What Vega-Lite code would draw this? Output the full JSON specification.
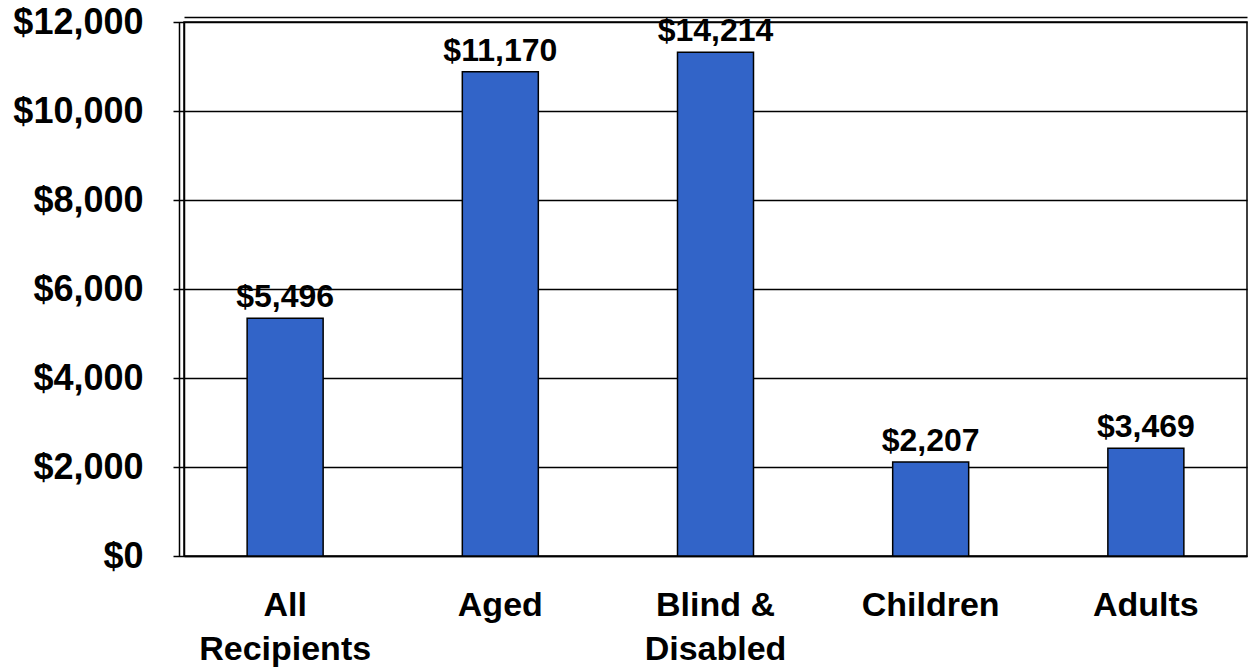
{
  "$schema": "https://vega.github.io/schema/vega-lite/v6.json",
  "autosize": {"type": "none"},
  "padding": {"left": 184, "top": 22, "right": 2, "bottom": 114},
  "width": 1063,
  "height": 534,
  "background": "white",
  "config": {
    "view": {"stroke": "black", "strokeWidth": 1.5},
    "font": "Liberation Sans"
  },
  "data": {
    "values": [
      {"group": "All Recipients", "amount": 5340, "label": "$5,496"},
      {"group": "Aged", "amount": 10880, "label": "$11,170"},
      {"group": "Blind & Disabled", "amount": 11320, "label": "$14,214"},
      {"group": "Children", "amount": 2110, "label": "$2,207"},
      {"group": "Adults", "amount": 2420, "label": "$3,469"}
    ]
  },
  "encoding": {
    "x": {
      "field": "group",
      "type": "nominal",
      "sort": null,
      "scale": {"paddingOuter": 0.22, "paddingInner": 0.5}
    },
    "y": {
      "field": "amount",
      "type": "quantitative",
      "scale": {"domain": [0, 12000], "nice": false}
    }
  },
  "layer": [
    {
      "mark": {"type": "bar", "size": 76, "fill": "#3264C8", "stroke": "black", "strokeWidth": 1.5},
      "encoding": {
        "x": {
          "field": "group",
          "type": "nominal",
          "sort": null,
          "axis": {
            "title": null,
            "orient": "bottom",
            "labelAngle": 0,
            "ticks": false,
            "tickSize": 0,
            "domain": true,
            "domainColor": "black",
            "domainWidth": 1.5,
            "labelFont": "Liberation Sans",
            "labelFontWeight": "bold",
            "labelFontSize": 34,
            "labelColor": "black",
            "labelPadding": 32,
            "labelBaseline": "top",
            "labelLineHeight": 44,
            "labelExpr": "datum.label == 'All Recipients' ? ['All', 'Recipients'] : datum.label == 'Blind & Disabled' ? ['Blind &', 'Disabled'] : datum.label"
          }
        },
        "y": {
          "field": "amount",
          "type": "quantitative",
          "axis": {
            "title": null,
            "orient": "left",
            "values": [0, 2000, 4000, 6000, 8000, 10000, 12000],
            "labelExpr": "'$' + format(datum.value, ',')",
            "labelFont": "Liberation Sans",
            "labelFontWeight": "bold",
            "labelFontSize": 36,
            "labelColor": "black",
            "labelPadding": 30,
            "tickSize": 11,
            "tickColor": "black",
            "tickWidth": 1.5,
            "domainColor": "black",
            "domainWidth": 1.5,
            "grid": true,
            "gridColor": "black",
            "gridWidth": 1.5,
            "gridOpacity": 1
          }
        }
      }
    },
    {
      "mark": {"type": "text", "font": "Liberation Sans", "fontWeight": "bold", "fontSize": 32, "baseline": "alphabetic", "dy": -11, "color": "black"},
      "encoding": {
        "x": {
          "field": "group",
          "type": "nominal",
          "sort": null,
          "axis": {
            "title": null,
            "orient": "top",
            "offset": 5,
            "labels": false,
            "ticks": false,
            "domainColor": "black",
            "domainWidth": 1.5
          }
        },
        "y": {
          "field": "amount",
          "type": "quantitative",
          "axis": {
            "title": null,
            "orient": "left",
            "offset": 5,
            "labels": false,
            "ticks": false,
            "grid": false,
            "domainColor": "black",
            "domainWidth": 1.5
          }
        },
        "text": {"field": "label"}
      }
    }
  ],
  "resolve": {"axis": {"x": "independent", "y": "independent"}}
}
